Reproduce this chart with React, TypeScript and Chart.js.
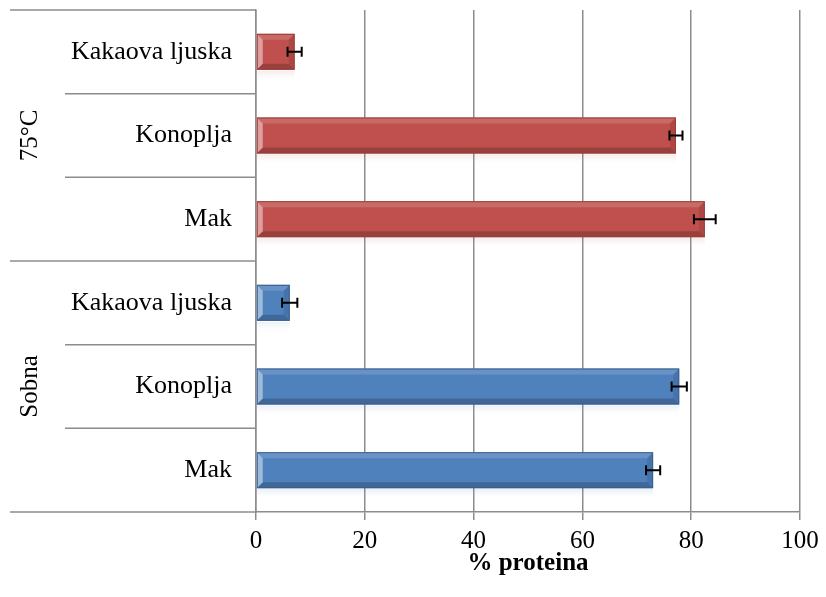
import { useEffect, useRef } from "react"
import { Chart, registerables } from "chart.js"

Chart.register(...registerables)

const plants = ["Kakaova ljuska", "Konoplja", "Mak"]
const groups = ["75°C", "Sobna"]
const proteinHot = [7.1, 77.2, 82.5]
const errorHot = [1.3, 1.2, 2.0]
const proteinRoom = [6.2, 77.8, 73.0]
const errorRoom = [1.4, 1.4, 1.3]
const xTicks = [0, 20, 40, 60, 80, 100]

const FONT = "'Liberation Serif', 'Times New Roman', serif"
const GRID = "#8c8c8c"

const labels = [...plants, ...plants]
const hotData = [...proteinHot, null, null, null]
const roomData = [null, null, null, ...proteinRoom]
const hotErr = [...errorHot, null, null, null]
const roomErr = [null, null, null, ...errorRoom]

// row dividers on the left plus the group labels
const dividerPlugin = {
  id: "dividers",
  afterDraw(chart: any) {
    const { ctx, chartArea } = chart
    const n = labels.length
    const rowH = (chartArea.bottom - chartArea.top) / n
    ctx.save()
    ctx.strokeStyle = GRID
    ctx.lineWidth = 1.5
    for (let i = 0; i <= n; i++) {
      const y = chartArea.top + i * rowH
      const x0 = i % plants.length === 0 ? 10 : 65
      ctx.beginPath()
      ctx.moveTo(x0, y)
      ctx.lineTo(chartArea.left, y)
      ctx.stroke()
    }
    ctx.fillStyle = "#000"
    ctx.font = `25px ${FONT}`
    ctx.textAlign = "center"
    ctx.textBaseline = "middle"
    groups.forEach((g, gi) => {
      const yc = chartArea.top + (gi * plants.length + plants.length / 2) * rowH
      ctx.save()
      ctx.translate(30, yc)
      ctx.rotate(-Math.PI / 2)
      ctx.fillText(g, 0, 0)
      ctx.restore()
    })
    ctx.restore()
  },
}

// bevel + reflection on each bar
const bevelPlugin = {
  id: "bevel",
  afterDatasetsDraw(chart: any) {
    const { ctx } = chart
    chart.data.datasets.forEach((ds: any, di: number) => {
      const meta = chart.getDatasetMeta(di)
      meta.data.forEach((el: any, i: number) => {
        if (ds.data[i] == null) return
        const { x, y, base, height } = el.getProps(["x", "y", "base", "height"], true)
        const x0 = Math.min(x, base)
        const x1 = Math.max(x, base)
        const y0 = y - height / 2
        const y1 = y + height / 2
        const b = 6
        ctx.save()
        // reflection
        const rg = ctx.createLinearGradient(0, y1 + 1, 0, y1 + 12)
        rg.addColorStop(0, ds.reflect)
        rg.addColorStop(1, "rgba(255,255,255,0)")
        ctx.fillStyle = rg
        ctx.fillRect(x0, y1 + 1, x1 - x0, 11)
        // top face
        ctx.fillStyle = "rgba(255,255,255,0.15)"
        ctx.beginPath()
        ctx.moveTo(x0, y0); ctx.lineTo(x1, y0); ctx.lineTo(x1 - b, y0 + b); ctx.lineTo(x0 + b, y0 + b)
        ctx.closePath(); ctx.fill()
        // bottom face
        ctx.fillStyle = "rgba(0,0,0,0.2)"
        ctx.beginPath()
        ctx.moveTo(x0, y1); ctx.lineTo(x1, y1); ctx.lineTo(x1 - b, y1 - b); ctx.lineTo(x0 + b, y1 - b)
        ctx.closePath(); ctx.fill()
        // right face
        ctx.fillStyle = "rgba(0,0,0,0.1)"
        ctx.beginPath()
        ctx.moveTo(x1, y0); ctx.lineTo(x1, y1); ctx.lineTo(x1 - b, y1 - b); ctx.lineTo(x1 - b, y0 + b)
        ctx.closePath(); ctx.fill()
        // left face highlight
        ctx.fillStyle = "rgba(255,255,255,0.45)"
        ctx.beginPath()
        ctx.moveTo(x0, y0); ctx.lineTo(x0, y1); ctx.lineTo(x0 + b, y1 - b); ctx.lineTo(x0 + b, y0 + b)
        ctx.closePath(); ctx.fill()
        ctx.strokeStyle = ds.borderColor
        ctx.lineWidth = 1
        ctx.strokeRect(x0 + 0.5, y0 + 0.5, x1 - x0 - 1, y1 - y0 - 1)
        ctx.restore()
      })
    })
  },
}

const errorBarPlugin = {
  id: "errorBars",
  afterDatasetsDraw(chart: any) {
    const { ctx } = chart
    const xScale = chart.scales.x
    chart.data.datasets.forEach((ds: any, di: number) => {
      const meta = chart.getDatasetMeta(di)
      meta.data.forEach((el: any, i: number) => {
        const v = ds.data[i]
        const e = ds.errors[i]
        if (v == null || e == null) return
        const xl = xScale.getPixelForValue(v - e)
        const xr = xScale.getPixelForValue(v + e)
        const y = el.y
        ctx.save()
        ctx.strokeStyle = "#000"
        ctx.lineWidth = 2
        ctx.beginPath()
        ctx.moveTo(xl, y); ctx.lineTo(xr, y)
        ctx.moveTo(xl, y - 5); ctx.lineTo(xl, y + 5)
        ctx.moveTo(xr, y - 5); ctx.lineTo(xr, y + 5)
        ctx.stroke()
        ctx.restore()
      })
    })
  },
}

export default function App() {
  const chartRef = useRef<HTMLCanvasElement>(null)
  const chartInstance = useRef<Chart | null>(null)

  useEffect(() => {
    if (!chartRef.current) return
    if (chartInstance.current) {
      chartInstance.current.destroy()
    }
    const ctx = chartRef.current.getContext("2d")
    if (!ctx) return

    chartInstance.current = new Chart(ctx, {
      type: "bar",
      data: {
        labels,
        datasets: [
          {
            label: groups[0],
            data: hotData,
            errors: hotErr,
            backgroundColor: "#c0504d",
            borderColor: "#9a3e3b",
            reflect: "rgba(192,80,77,0.12)",
            borderWidth: 0,
            grouped: false,
            barPercentage: 0.43,
            categoryPercentage: 1,
          } as any,
          {
            label: groups[1],
            data: roomData,
            errors: roomErr,
            backgroundColor: "#4f81bd",
            borderColor: "#3a5f8b",
            reflect: "rgba(79,129,189,0.12)",
            borderWidth: 0,
            grouped: false,
            barPercentage: 0.43,
            categoryPercentage: 1,
          } as any,
        ],
      },
      options: {
        indexAxis: "y",
        animation: false,
        responsive: true,
        maintainAspectRatio: false,
        layout: { padding: { left: 10, top: 10, right: 26, bottom: 20 } },
        scales: {
          x: {
            min: 0,
            max: 100,
            afterFit: (s: any) => { s.height = 65; s.paddingLeft = 0; s.paddingRight = 0 },
            afterBuildTicks: (s: any) => { s.ticks = xTicks.map((v) => ({ value: v })) },
            grid: { color: GRID, lineWidth: 1.5, tickLength: 8, drawTicks: true },
            border: { display: true, color: GRID, width: 1.5 },
            ticks: { color: "#000", font: { family: FONT, size: 25 }, padding: 6 },
            title: {
              display: true,
              text: "% proteina",
              color: "#000",
              font: { family: FONT, size: 25, weight: "bold" },
              padding: { top: 0, bottom: -2 },
            },
          },
          y: {
            afterFit: (s: any) => { s.width = 246; s.paddingTop = 0; s.paddingBottom = 0 },
            grid: { display: false },
            border: { display: true, color: GRID, width: 1.5 },
            ticks: { color: "#000", font: { family: FONT, size: 26 }, padding: 16 },
          },
        },
        plugins: {
          legend: { display: false },
          tooltip: { enabled: false },
        },
      },
      plugins: [dividerPlugin, bevelPlugin, errorBarPlugin],
    })

    return () => {
      if (chartInstance.current) {
        chartInstance.current.destroy()
      }
    }
  }, [])

  return (
    <div style={{ position: "absolute", left: 0, top: 0, width: 826, height: 597, background: "#fff" }}>
      <canvas ref={chartRef} />
    </div>
  )
}
